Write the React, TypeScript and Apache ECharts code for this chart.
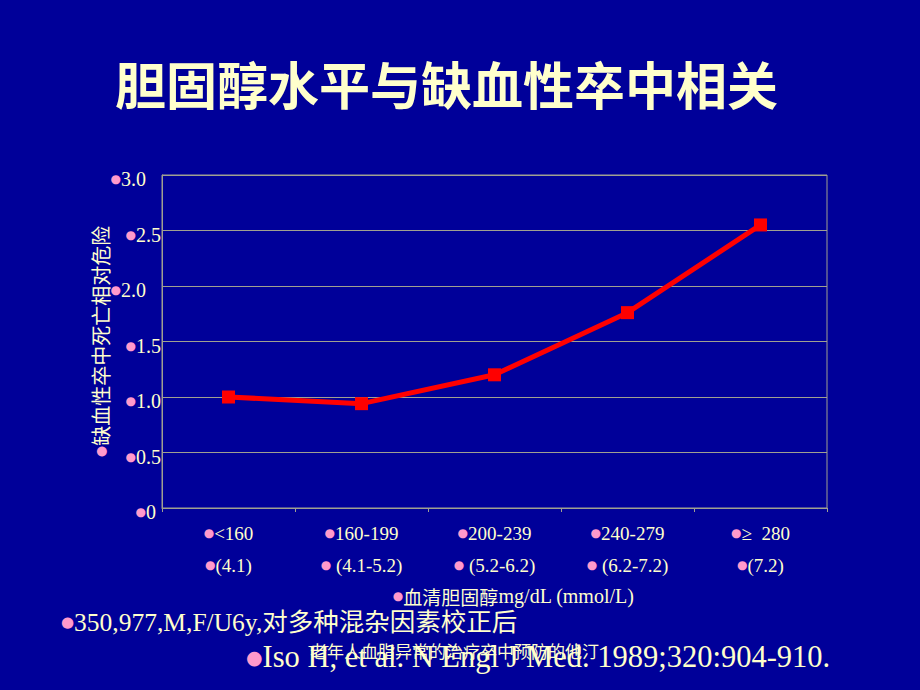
import React, { useEffect, useRef } from "react";
import * as echarts from "echarts";

const categories = ["<160", "160-199", "200-239", "240-279", "≥  280"];
const mmolLabels = ["(4.1)", " (4.1-5.2)", " (5.2-6.2)", " (6.2-7.2)", "(7.2)"];
const riskValues = [1.0, 0.94, 1.2, 1.76, 2.55];
const yTicks = { min: 0, max: 3, interval: 0.5 };

const titleText = "胆固醇水平与缺血性卒中相关";
const yAxisTitle = "缺血性卒中死亡相对危险";
const xAxisTitleCjk = "血清胆固醇";
const xAxisTitleUnit = "mg/dL (mmol/L)";
const noteText = "350,977,M,F/U6y,对多种混杂因素校正后";
const citeText = "Iso H, et al. N Engl J Med. 1989;320:904-910.";
const footerText = "老年人血脂异常的治疗卒中预防的他汀";

const BG = "#000099";
const CREAM = "#FFFFCC";
const PINK = "#FF99CC";
const GRID = "#a0a090";
const SERIF = "'Liberation Serif', 'Noto Sans CJK SC', serif";
const CJK = "'Noto Sans CJK SC', sans-serif";

export default function App() {
  const ref = useRef<HTMLDivElement>(null);
  useEffect(() => {
    document.body.style.margin = "0";
    const chart = echarts.init(ref.current!, null, { renderer: "svg" });
    const dot = (size: number) => ({
      color: PINK,
      fontSize: size,
      fontFamily: "'DejaVu Sans', sans-serif",
    });
    chart.setOption({
      animation: false,
      backgroundColor: BG,
      grid: {
        left: 162,
        right: 93,
        top: 175,
        bottom: 182,
        show: true,
        borderColor: GRID,
        borderWidth: 1,
      },
      xAxis: {
        type: "category",
        data: categories,
        boundaryGap: true,
        axisLine: { lineStyle: { color: GRID, width: 1 } },
        axisTick: { show: true, length: 4, lineStyle: { color: GRID } },
        axisLabel: {
          margin: 9,
          interval: 0,
          formatter: (v: string, i: number) =>
            `{d|●}{t|${v}}\n{d|●}{t|${mmolLabels[i]}}`,
          rich: {
            d: dot(12),
            t: { color: CREAM, fontSize: 19, fontFamily: SERIF, lineHeight: 32 },
          },
        },
        name: `{d|●}{c|${xAxisTitleCjk}}{t|${xAxisTitleUnit}}`,
        nameLocation: "middle",
        nameGap: 78,
        nameMoveOverlap: false,
        nameTextStyle: {
          padding: [0, 0, 0, 38],
          rich: {
            d: dot(12),
            c: { color: CREAM, fontSize: 19, fontFamily: CJK },
            t: { color: CREAM, fontSize: 20, fontFamily: SERIF },
          },
        },
      },
      yAxis: {
        type: "value",
        min: yTicks.min,
        max: yTicks.max,
        interval: yTicks.interval,
        axisLine: { show: true, lineStyle: { color: GRID, width: 1 } },
        axisTick: { show: false },
        splitLine: { lineStyle: { color: GRID, width: 1 } },
        axisLabel: {
          margin: 1,
          padding: [8, 0, 0, 0],
          formatter: (v: number) => {
            const s = v === 0 ? "0" : v.toFixed(1);
            const spacer = v === 3 || v === 2 ? "{s| }" : v === 0 ? "{z| }" : "";
            return `{d|●}{t|${s}}${spacer}`;
          },
          rich: {
            d: dot(12),
            t: { color: CREAM, fontSize: 20, fontFamily: SERIF },
            s: { width: 15 },
            z: { width: 5 },
          },
        },
        name: `{d|●}{t|${yAxisTitle}}`,
        nameLocation: "middle",
        nameRotate: 90,
        nameGap: 52,
        nameMoveOverlap: false,
        nameTextStyle: {
          rich: {
            d: dot(13),
            t: { color: CREAM, fontSize: 20, fontFamily: CJK },
          },
        },
      },
      series: [
        {
          type: "line",
          data: riskValues,
          color: "#FF0000",
          lineStyle: { color: "#FF0000", width: 5 },
          itemStyle: { color: "#FF0000" },
          symbol: "rect",
          symbolSize: 13,
        },
      ],
      graphic: [
        {
          type: "text",
          x: 115,
          y: 83,
          style: {
            text: titleText,
            fill: CREAM,
            verticalAlign: "middle",
            font: `bold 51px ${CJK}`,
          },
        },
        {
          type: "text",
          x: 61,
          y: 622,
          style: {
            text: `{d|●}{t|${noteText}}`,
            verticalAlign: "middle",
            rich: {
              d: { fill: PINK, fontSize: 15, fontFamily: "'DejaVu Sans', sans-serif" },
              t: { fill: CREAM, fontSize: 25.5, fontFamily: SERIF },
            },
          },
        },
        {
          type: "text",
          x: 246,
          y: 657,
          style: {
            text: `{d|●}{t|${citeText}}`,
            verticalAlign: "middle",
            rich: {
              d: { fill: PINK, fontSize: 19, fontFamily: "'DejaVu Sans', sans-serif" },
              t: { fill: CREAM, fontSize: 30.5, fontFamily: SERIF },
            },
          },
        },
        {
          type: "text",
          x: 310,
          y: 650,
          style: {
            text: footerText,
            verticalAlign: "middle",
            fill: CREAM,
            font: `17px ${CJK}`,
          },
        },
      ],
    });
    return () => chart.dispose();
  }, []);
  return (
    <div
      ref={ref}
      style={{ position: "fixed", left: 0, top: 0, width: 920, height: 690 }}
    />
  );
}
